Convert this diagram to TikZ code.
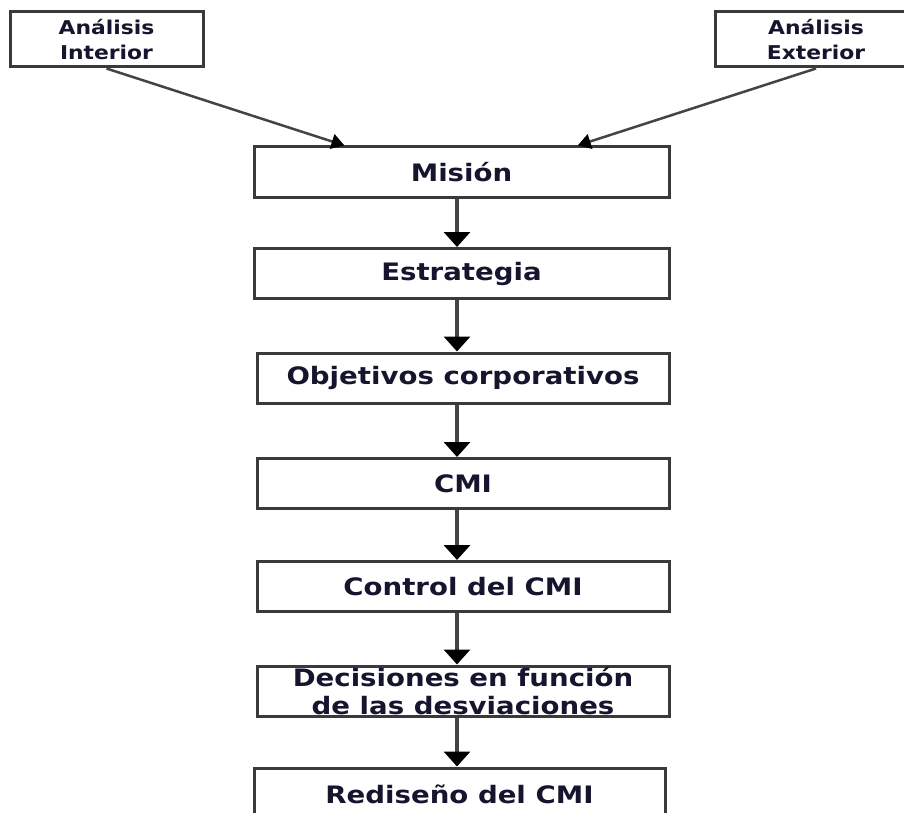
\documentclass[tikz,border=0pt]{standalone}
\usepackage{fontspec}
\newfontfamily\df{DejaVu Sans}[FakeStretch=1.15]
\usetikzlibrary{arrows.meta,calc}
\definecolor{bordc}{HTML}{3A3A3A}
\definecolor{txtc}{HTML}{15152E}
\definecolor{linec}{HTML}{444444}
\begin{document}
\begin{tikzpicture}[x=1pt,y=-1pt,
  box/.style={draw=bordc, line width=3pt, minimum width=415pt, minimum height=50pt,
    inner sep=0pt, align=center, font=\df\bfseries\fontsize{24}{28}\selectfont, text=txtc},
  topbox/.style={box, minimum width=193pt, minimum height=55pt,
    font=\df\bfseries\fontsize{19}{25}\selectfont},
  vflow/.style={draw=linec, line width=3.5pt, -{Triangle[width=26pt,length=15pt,color=black]}},
  dflow/.style={draw=linec, line width=2.5pt, -{Triangle[width=15pt,length=13pt,color=black]}},
]
\useasboundingbox (0,0) rectangle (904,813);
\clip (0,0) rectangle (904,813);
\fill[white] (0,0) rectangle (904,813);

\node[topbox] (AI) at (106.5,39.5) {Análisis\\Interior};
\node[topbox, minimum width=202pt] (AE) at (816,39.5) {Análisis\\Exterior};
\node[box] (M) at (461.5,172) {Misión};
\node[box] (E) at (461.5,273.5) {Estrategia};
\node[box, minimum width=412pt] (O) at (463,378) {Objetivos corporativos};
\node[box, minimum width=412pt] (C) at (463,483.5) {CMI};
\node[box, minimum width=412pt] (CC) at (463,586.5) {Control del CMI};
\node[box, minimum width=412pt] (D) at (463,691) {Decisiones en función\\de las desviaciones};
\node[box, minimum width=411pt, minimum height=52pt] (R) at (459.5,794) {Rediseño del CMI};

\coordinate (ax) at (457,0);
\draw[vflow] (M.south -| ax) -- (E.north -| ax);
\draw[vflow] (E.south -| ax) -- (O.north -| ax);
\draw[vflow] (O.south -| ax) -- (C.north -| ax);
\draw[vflow] (C.south -| ax) -- (CC.north -| ax);
\draw[vflow] (CC.south -| ax) -- (D.north -| ax);
\draw[vflow] (D.south -| ax) -- (R.north -| ax);

\draw[dflow] (AI.south) -- ($(M.north west)!0.22!(M.north east)$);
\draw[dflow] (AE.south) -- ($(M.north west)!0.778!(M.north east)$);
\end{tikzpicture}
\end{document}
